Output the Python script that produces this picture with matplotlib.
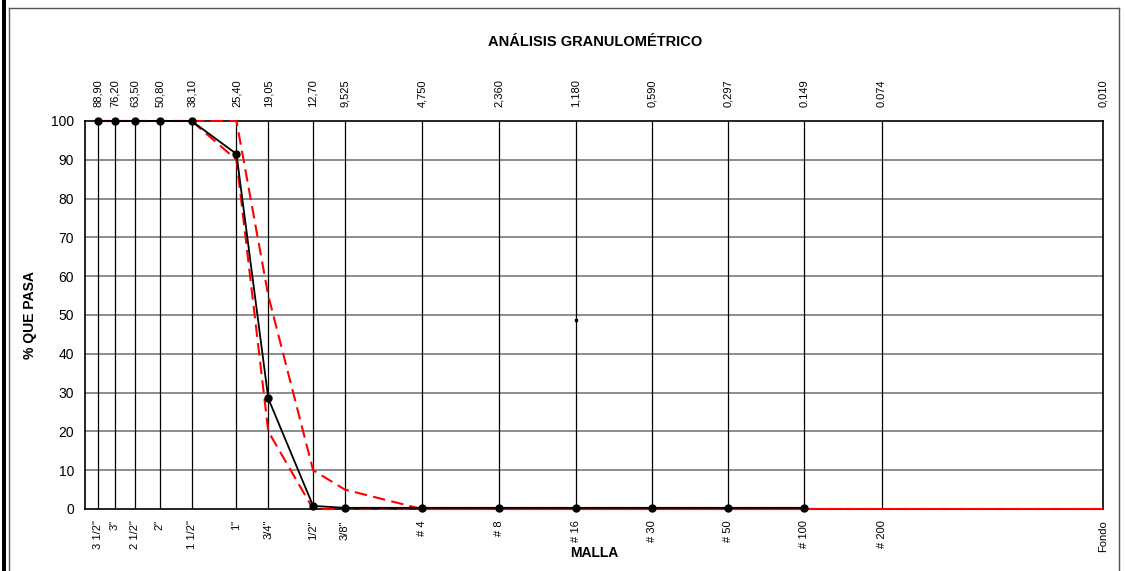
import matplotlib
matplotlib.use("Agg")
import matplotlib.pyplot as plt
from matplotlib.lines import Line2D
from matplotlib.patches import Rectangle
from matplotlib.ticker import NullLocator

plt.rcParams["font.family"] = ["Liberation Sans", "DejaVu Sans"]

# sieve openings (mm) and names
sizes = [88.90, 76.20, 63.50, 50.80, 38.10, 25.40, 19.05, 12.70, 9.525,
         4.750, 2.360, 1.180, 0.590, 0.297, 0.149, 0.074, 0.010]
size_labels = ["88,90", "76,20", "63,50", "50,80", "38,10", "25,40", "19,05",
               "12,70", "9,525", "4,750", "2,360", "1,180", "0,590", "0,297",
               "0.149", "0.074", "0,010"]
mesh_labels = ['3 1/2"', '3"', '2 1/2"', '2"', '1 1/2"', '1"', '3/4"', '1/2"',
               '3/8"', "# 4", "# 8", "# 16", "# 30", "# 50", "# 100", "# 200",
               "Fondo"]

# sample curve (% passing)
sample_sizes = [88.90, 76.20, 63.50, 50.80, 38.10, 25.40, 19.05, 12.70, 9.525,
                4.750, 2.360, 1.180, 0.590, 0.297, 0.149]
sample_pass = [100, 100, 100, 100, 100, 91.5, 28.5, 0.8, 0.3,
               0.3, 0.3, 0.3, 0.3, 0.3, 0.3]

# specification limits
upper_sizes = [88.90, 38.10, 25.40, 19.05, 12.70, 9.525, 4.750, 0.010]
upper_pass = [100, 100, 100, 55, 10, 5, 0, 0]
lower_sizes = [88.90, 38.10, 25.40, 19.05, 12.70, 9.525, 0.010]
lower_pass = [100, 100, 90, 20, 0, 0, 0]

# stray point in the original sheet
stray_size = [1.18]
stray_pass = [48.7]

fig = plt.figure(figsize=(11.25, 5.71), dpi=100)
ax = fig.add_axes([85 / 1125, 62 / 571, 1018 / 1125, 388 / 571])

ax.set_xscale("log")
ax.set_xlim(100, 0.01)
ax.set_ylim(0, 100)

ax.plot(upper_sizes, upper_pass, color="#ff0000", lw=1.5, dashes=(6, 3),
        zorder=4, clip_on=False)
ax.plot(lower_sizes, lower_pass, color="#ff0000", lw=1.5, dashes=(6, 3),
        zorder=4, clip_on=False)
ax.plot(sample_sizes, sample_pass, color="black", lw=1.3, marker="o",
        markersize=5, zorder=5, clip_on=False)
ax.plot(stray_size, stray_pass, color="black", marker="s", markersize=2,
        linestyle="none", zorder=5)

ax.xaxis.set_minor_locator(NullLocator())
ax.set_xticks(sizes)
ax.set_xticklabels(mesh_labels, rotation=90, fontsize=8)
ax.set_yticks(range(0, 101, 10))
ax.tick_params(axis="y", length=0, pad=8, labelsize=10)
ax.tick_params(axis="x", length=0, pad=8)
for s in sizes:
    ax.axvline(s, color="black", lw=0.9, zorder=2)
for v in range(10, 100, 10):
    ax.axhline(v, color="#6e6e6e", lw=1.1, zorder=1)
for sp in ax.spines.values():
    sp.set_color("black")
    sp.set_linewidth(1.2)

top = ax.secondary_xaxis("top")
top.xaxis.set_minor_locator(NullLocator())
top.set_xticks(sizes)
top.set_xticklabels(size_labels, rotation=90, fontsize=8)
top.tick_params(which="both", length=0, pad=10)
top.spines["top"].set_visible(False)

ax.set_ylabel("% QUE PASA", fontsize=10, fontweight="bold", labelpad=10)
ax.set_xlabel("MALLA", fontsize=10, fontweight="bold", labelpad=-4)
fig.text(0.529, 1 - 42 / 571, "ANÁLISIS GRANULOMÉTRICO", ha="center",
         va="center", fontsize=10.5, fontweight="bold")

# sheet frame
fig.add_artist(Rectangle((2 / 1125, 0), 4 / 1125, 1, transform=fig.transFigure,
                         color="black", lw=0))
fig.add_artist(Line2D([9 / 1125, 9 / 1125], [0, 1 - 8 / 571],
                      transform=fig.transFigure, color="#555555", lw=1))
fig.add_artist(Line2D([9 / 1125, 1119 / 1125], [1 - 8 / 571, 1 - 8 / 571],
                      transform=fig.transFigure, color="#555555", lw=1))
fig.add_artist(Line2D([1119 / 1125, 1119 / 1125], [0, 1 - 8 / 571],
                      transform=fig.transFigure, color="#555555", lw=1))

fig.savefig("out.png", dpi=100)
